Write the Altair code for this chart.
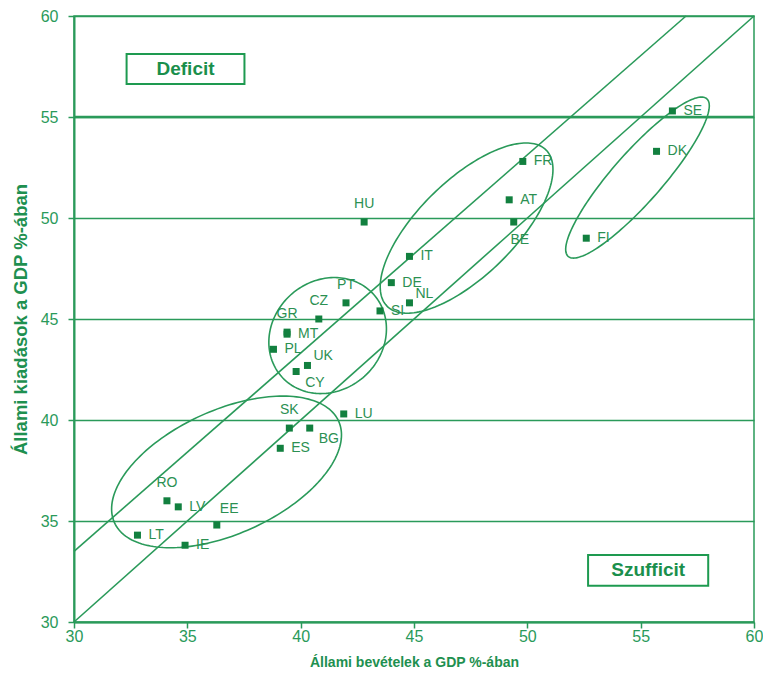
import numpy as np
import pandas as pd
import altair as alt

GREEN = "#2a9a5a"
DARK = "#12803f"
SANS = "'Liberation Sans', Arial, sans-serif"

# ---- data ----
codes = ["SE", "DK", "FI", "FR", "AT", "BE", "IT", "DE", "NL", "SI", "HU", "PT", "CZ", "GR",
         "MT", "PL", "UK", "CY", "SK", "BG", "ES", "LU", "RO", "LV", "EE", "LT", "IE"]
revenue = [56.4, 55.7, 52.6, 49.8, 49.2, 49.4, 44.8, 44.0, 44.8, 43.5, 42.8, 42.0, 40.8, 39.4,
           39.4, 38.8, 40.3, 39.8, 39.5, 40.4, 39.1, 41.9, 34.1, 34.6, 36.3, 32.8, 34.9]
expenditure = [55.3, 53.3, 49.0, 52.8, 50.9, 49.8, 48.1, 46.8, 45.8, 45.4, 49.8, 45.8, 45.0, 44.35,
               44.25, 43.5, 42.7, 42.4, 39.6, 39.6, 38.6, 40.3, 36.0, 35.7, 34.8, 34.3, 33.8]
label_pos = ["r", "r", "r", "r", "r", "b", "r", "r", "ur", "r", "a", "a", "a", "a",
             "r", "r", "ur", "dr", "a", "dr", "r", "r", "a", "r", "au", "r", "r"]

# reference lines (balance and 3% deficit)
diag_x1 = [30, 30]
diag_y1 = [30, 33.5]
diag_x2 = [60, 57]
diag_y2 = [60, 60]

thick_rule = [55]
ticks = [30, 35, 40, 45, 50, 55, 60]

# group ellipses: centre, major and minor semi-axis vectors (data units)
ell_cx = [36.73, 41.19, 47.32, 54.86]
ell_cy = [37.43, 44.18, 49.50, 52.00]
ell_major = [(4.95, 2.50), (2.08, 1.97), (3.52, 3.85), (3.06, 3.90)]
ell_minor = [(1.10, -2.80), (1.55, -2.09), (1.46, -1.71), (0.82, -0.82)]

box_x1 = [32.32, 52.68]
box_x2 = [37.52, 57.98]
box_y1 = [56.63, 31.80]
box_y2 = [58.12, 33.32]
box_text = ["Deficit", "Szufficit"]

# ---- tables ----
pts = pd.DataFrame(dict(code=codes, x=revenue, y=expenditure, pos=label_pos))

rows = []
t = np.linspace(0, 2 * np.pi, 181)
for i in range(len(ell_cx)):
    mx, my = ell_major[i]
    nx, ny = ell_minor[i]
    for k, tt in enumerate(t):
        rows.append(dict(e=i, o=k,
                         x=ell_cx[i] + np.cos(tt) * mx + np.sin(tt) * nx,
                         y=ell_cy[i] + np.cos(tt) * my + np.sin(tt) * ny))
ell = pd.DataFrame(rows)

diag = pd.DataFrame(dict(x=diag_x1, y=diag_y1, x2=diag_x2, y2=diag_y2))
boxes = pd.DataFrame(dict(x=box_x1, x2=box_x2, y=box_y1, y2=box_y2, label=box_text))
boxes["cx"] = (boxes.x + boxes.x2) / 2
boxes["cy"] = (boxes.y + boxes.y2) / 2

xs = alt.Scale(domain=[30, 60], nice=False, zero=False)
ys = alt.Scale(domain=[30, 60], nice=False, zero=False)

xaxis = alt.Axis(values=ticks, title="Állami bevételek a GDP %-ában", grid=False,
                 labelFlush=False, labelOverlap=False,
                 domainColor=GREEN, domainWidth=2, tickColor=GREEN, tickWidth=1.5, tickSize=6,
                 labelColor=GREEN, labelFont=SANS, labelFontSize=16, labelPadding=0,
                 titleColor="#1e9050", titleFont=SANS, titleFontSize=14, titleFontWeight="bold",
                 titlePadding=11)
yaxis = alt.Axis(values=ticks, title="Állami kiadások a GDP %-ában", grid=True,
                 labelFlush=False, labelOverlap=False,
                 gridColor=GREEN, gridWidth=1.3,
                 domainColor=GREEN, domainWidth=2, tickColor=GREEN, tickWidth=1.5, tickSize=6,
                 labelColor=GREEN, labelFont=SANS, labelFontSize=16, labelPadding=10,
                 titleColor="#1e9050", titleFont=SANS, titleFontSize=18.5, titleFontWeight="bold",
                 titlePadding=10)


def X(f):
    return alt.X(f, scale=xs, axis=xaxis)


def Y(f):
    return alt.Y(f, scale=ys, axis=yaxis)


thick = alt.Chart(pd.DataFrame(dict(x=[30], x2=[60], y=thick_rule))).mark_rule(
    color=GREEN, strokeWidth=2.6).encode(x=X("x:Q"), x2="x2:Q", y=Y("y:Q"))

lines = alt.Chart(diag).mark_rule(color=GREEN, strokeWidth=1.6).encode(
    x=X("x:Q"), y=Y("y:Q"), x2="x2:Q", y2="y2:Q")

ellipses = alt.Chart(ell).mark_line(color=GREEN, strokeWidth=1.6).encode(
    x=X("x:Q"), y=Y("y:Q"), detail="e:N", order="o:Q")

markers = alt.Chart(pts).mark_square(color=DARK, size=49, opacity=1).encode(
    x=X("x:Q"), y=Y("y:Q"))

placements = {
    "r": (11, 0, "left"),
    "a": (0, -18, "center"),
    "b": (6, 18, "center"),
    "ur": (6, -9, "left"),
    "dr": (9, 11, "left"),
    "au": (3, -16, "left"),
}
label_layers = []
for key, (dx, dy, al) in placements.items():
    label_layers.append(
        alt.Chart(pts).transform_filter(alt.datum.pos == key).mark_text(
            dx=dx, dy=dy, align=al, baseline="middle", font=SANS, fontSize=14, color="#2b9052"
        ).encode(x=X("x:Q"), y=Y("y:Q"), text="code:N"))

box_rects = alt.Chart(boxes).mark_rect(fill="white", stroke="#1e9a50", strokeWidth=2).encode(
    x=X("x:Q"), x2="x2:Q", y=Y("y:Q"), y2="y2:Q")
box_labels = alt.Chart(boxes).mark_text(font=SANS, fontSize=19, fontWeight="bold",
                                        color="#1a8f4c", baseline="middle").encode(
    x=X("cx:Q"), y=Y("cy:Q"), text="label:N")

chart = alt.layer(thick, lines, ellipses, markers, *label_layers, box_rects, box_labels).properties(
    width=680, height=606, background="white",
    autosize=alt.AutoSizeParams(type="none"),
    padding={"left": 66, "top": 8, "right": 9, "bottom": 48},
).configure_view(stroke=GREEN, strokeWidth=1.5)

chart.save("out.html", embed_options={"renderer": "svg", "actions": False})
